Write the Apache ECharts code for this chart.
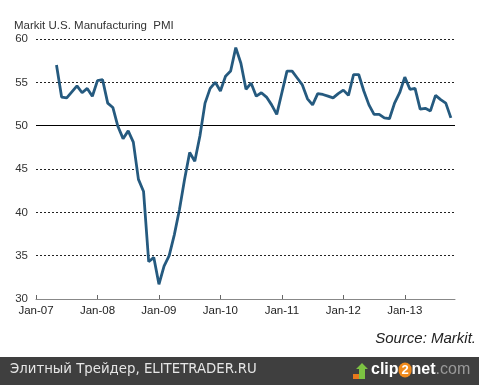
<!DOCTYPE html>
<html>
<head>
<meta charset="utf-8">
<script src="https://cdn.jsdelivr.net/npm/echarts@6/dist/echarts.min.js"></script>
<style>
html,body{margin:0;padding:0;background:#fff;}
#chart{width:479px;height:385px;}
</style>
</head>
<body>
<div id="chart"></div>
<script>
// Month index 0 = Jan-07
const tickLabels = ['Jan-07','Jan-08','Jan-09','Jan-10','Jan-11','Jan-12','Jan-13'];
const tickMonths = [0, 12, 24, 36, 48, 60, 72];
const startMonth = 4; // May-07
const axisEndMonth = 81.8;
const pmi = [
  57.0, 53.3, 53.2, 53.9, 54.6, 53.8, 54.3, 53.4,          // May-07..Dec-07
  55.2, 55.3, 52.6, 52.1, 49.9, 48.5, 49.4, 48.1, 43.8, 42.4, 34.3, 34.8, // 2008
  31.7, 33.8, 35.0, 37.4, 40.3, 43.8, 46.9, 45.9, 48.8, 52.6, 54.3, 55.0, // 2009
  54.0, 55.7, 56.3, 59.0, 57.2, 54.2, 54.9, 53.4, 53.8, 53.3, 52.4, 51.3, // 2010
  53.8, 56.3, 56.3, 55.5, 54.7, 53.1, 52.4, 53.7, 53.6, 53.4, 53.2, 53.7, // 2011
  54.1, 53.5, 55.9, 55.9, 54.0, 52.4, 51.3, 51.3, 50.9, 50.8, 52.6, 53.8, // 2012
  55.6, 54.2, 54.3, 51.9, 52.0, 51.7, 53.5, 53.0, 52.6, 50.9              // 2013
];
const yTicks = [30, 35, 40, 45, 50, 55, 60];

const seriesData = pmi.map((v, i) => [startMonth + i, v]);

const chart = echarts.init(document.getElementById('chart'), null, {renderer: 'canvas'});
chart.setOption({
  animation: false,
  backgroundColor: '#fff',
  textStyle: {fontFamily: 'Liberation Sans, Arial, sans-serif'},
  title: {
    text: 'Markit U.S. Manufacturing  PMI',
    left: 9, top: 15,
    textStyle: {fontSize: 11.5, fontWeight: 'normal', color: '#333', fontFamily: 'Liberation Sans, Arial, sans-serif'}
  },
  grid: {left: 36, right: 24, top: 39, bottom: 86, containLabel: false},
  xAxis: {
    type: 'value', min: 0, max: axisEndMonth,
    axisLine: {show: true, lineStyle: {color: '#888', width: 1}},
    axisTick: {show: true, inside: true, length: 4, lineStyle: {color: '#666'}, customValues: tickMonths},
    axisLabel: {
      customValues: tickMonths,
      color: '#222', fontSize: 11.5, margin: 6,
      formatter: v => tickLabels[tickMonths.indexOf(Math.round(v))] || ''
    },
    splitLine: {show: false}
  },
  yAxis: {
    type: 'value', min: yTicks[0], max: yTicks[yTicks.length - 1], interval: 5,
    axisLine: {show: false}, axisTick: {show: false},
    axisLabel: {color: '#333', fontSize: 11.5, margin: 8},
    splitLine: {show: true, lineStyle: {color: '#222', type: [2, 2], width: 1}}
  },
  series: [{
    type: 'line',
    data: seriesData,
    showSymbol: false,
    lineStyle: {color: '#255a7f', width: 2.8},
    z: 3,
    markLine: {
      silent: true, symbol: 'none', label: {show: false},
      lineStyle: {color: '#000', type: 'solid', width: 1.2},
      data: [{yAxis: 50}],
      z: 2
    }
  }],
  graphic: [
    {type: 'text', right: 3, top: 331, style: {text: 'Source: Markit.', fontSize: 15, fontStyle: 'italic', fill: '#222', fontFamily: 'Liberation Sans, Arial, sans-serif'}},
    {type: 'rect', left: 0, top: 357, shape: {width: 479, height: 28}, style: {fill: '#3f3f3f'}},
    {type: 'text', left: 10, top: 363, style: {text: 'Элитный Трейдер, ELITETRADER.RU', fontSize: 13.3, fill: '#e6e6e6', fontFamily: 'DejaVu Sans, sans-serif'}},
    {type: 'polygon', shape: {points: [[353,374],[361,374],[361,379],[353,379]]}, style: {fill: '#e8791c'}},
    {type: 'polygon', shape: {points: [[362,363],[368,369],[365,369],[365,379],[359,379],[359,369],[356,369]]}, style: {fill: '#7cc242'}},
    {type: 'text', left: 371, top: 362, style: {
      rich: {
        a: {fontSize: 16, fontWeight: 'bold', fill: '#fff', fontFamily: 'Liberation Sans, Arial, sans-serif'},
        b: {fontSize: 13, fontWeight: 'bold', fill: '#fff', backgroundColor: '#f08a1c', borderRadius: 8, width: 13, height: 15, align: 'center', fontFamily: 'Liberation Sans, Arial, sans-serif'},
        c: {fontSize: 16, fill: '#9a9a9a', fontFamily: 'Liberation Sans, Arial, sans-serif'}
      },
      text: '{a|clip}{b|2}{a|net}{c|.com}'
    }}
  ]
});
</script>
</body>
</html>
